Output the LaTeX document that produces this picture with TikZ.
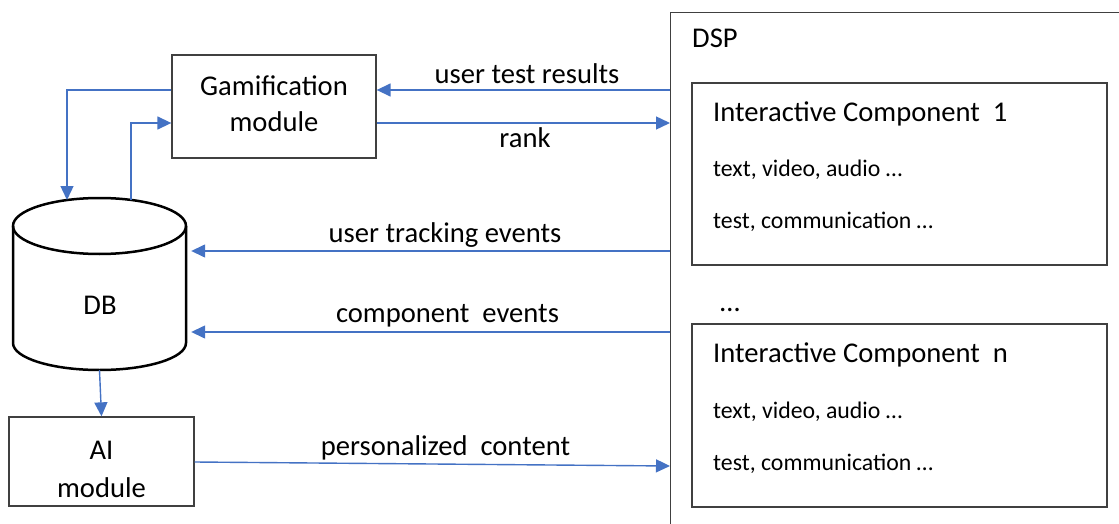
\documentclass[tikz,border=0pt]{standalone}
\usepackage{fontspec}
\setmainfont{Carlito}
\usetikzlibrary{arrows.meta,calc}
\definecolor{flow}{HTML}{4472C4}
\definecolor{frame}{HTML}{404040}
\begin{document}
\begin{tikzpicture}[x=1pt,y=-1pt,
  box/.style={draw=frame,line width=1.3pt,inner sep=0pt},
  big/.style={font=\fontsize{28.6}{36}\selectfont,inner sep=0pt},
  small/.style={font=\fontsize{23.8}{28}\selectfont,inner sep=0pt},
  flowline/.style={draw=flow,line width=1.4pt},
  flowarrow/.style={flowline,-{Triangle[length=14pt,width=13pt]}},
  dbline/.style={draw=black,line width=2.5pt}]
\useasboundingbox (0,0) rectangle (1119,524);
\clip (0,0) rectangle (1119,524);

% modules on the left
\node[box,minimum width=204pt,minimum height=103pt] (gam) at (274,106.5) {};
\node[big,align=center] (gamtext) at (274,103.5) {Gamification\\module};
\node[box,minimum width=185pt,minimum height=89pt] (ai) at (101.5,461.5) {};
\node[big,align=center,font=\fontsize{28.6}{38}\selectfont] (aitext) at (101.5,469) {AI\\module};

% database cylinder
\node[minimum width=173pt,minimum height=172pt,inner sep=0pt] (db) at (99.5,284) {};
\draw[dbline] (99.5,226) ellipse [x radius=86.5pt, y radius=28pt];
\draw[dbline] (13,226) -- (13,343) arc[start angle=180,end angle=360,x radius=86.5pt,y radius=27pt] -- (186,226);
\node[big,anchor=base] (dblabel) at (100,314) {DB};

% DSP frame and its components
\node[draw=frame,line width=1.3pt,minimum width=470pt,minimum height=530pt,anchor=north west] (dsp) at (670,12) {};
\node[big,anchor=base west] (dsptitle) at (692,48) {DSP};

\node[box,minimum width=415pt,minimum height=182pt] (c1) at (899.5,174) {};
\node[big,anchor=base west] (c1title) at (713,122) {Interactive Component\ \ 1};
\node[small,anchor=base west] (c1media) at (713,176) {text, video, audio …};
\node[small,anchor=base west] (c1test) at (713,228) {test, communication …};

\node[big,anchor=base west] (dots) at (720,311) {…};

\node[box,minimum width=415pt,minimum height=183pt] (cn) at (899.5,415.5) {};
\node[big,anchor=base west] (cntitle) at (713,362) {Interactive Component\ \ n};
\node[small,anchor=base west] (cnmedia) at (713,418) {text, video, audio …};
\node[small,anchor=base west] (cntest) at (713,470) {test, communication …};

% connector end points on the cylinder
\coordinate (dbin) at (67,200);
\coordinate (dbout) at (131,200);

% connectors
\draw[flowarrow] (dsp.west |- 0,90) -- (gam.east |- 0,90);
\draw[flowarrow] (gam.east |- 0,123) -- (dsp.west |- 0,123);
\draw[flowarrow] (gam.west |- 0,90) -| (dbin);
\draw[flowarrow] (dbout) |- (gam.west |- 0,123);
\draw[flowarrow] (dsp.west |- 0,251) -- ([xshift=5pt]db.east |- 0,251);
\draw[flowarrow] (dsp.west |- 0,332) -- ([xshift=5pt]db.east |- 0,332);
\draw[flowarrow] (db.south) -- (ai.north);
\draw[flowarrow] (ai.east |- 0,462) -- (dsp.west |- 0,466);

% connector labels
\node[big,anchor=base] (lresults) at (527,84) {user test results};
\node[big,anchor=base] (lrank) at (525,148) {rank};
\node[big,anchor=base] (ltrack) at (445,242) {user tracking events};
\node[big,anchor=base] (lcomp) at (447.5,322) {component\ \ events};
\node[big,anchor=base] (lpers) at (445.5,455) {personalized\ \ content};
\end{tikzpicture}
\end{document}
